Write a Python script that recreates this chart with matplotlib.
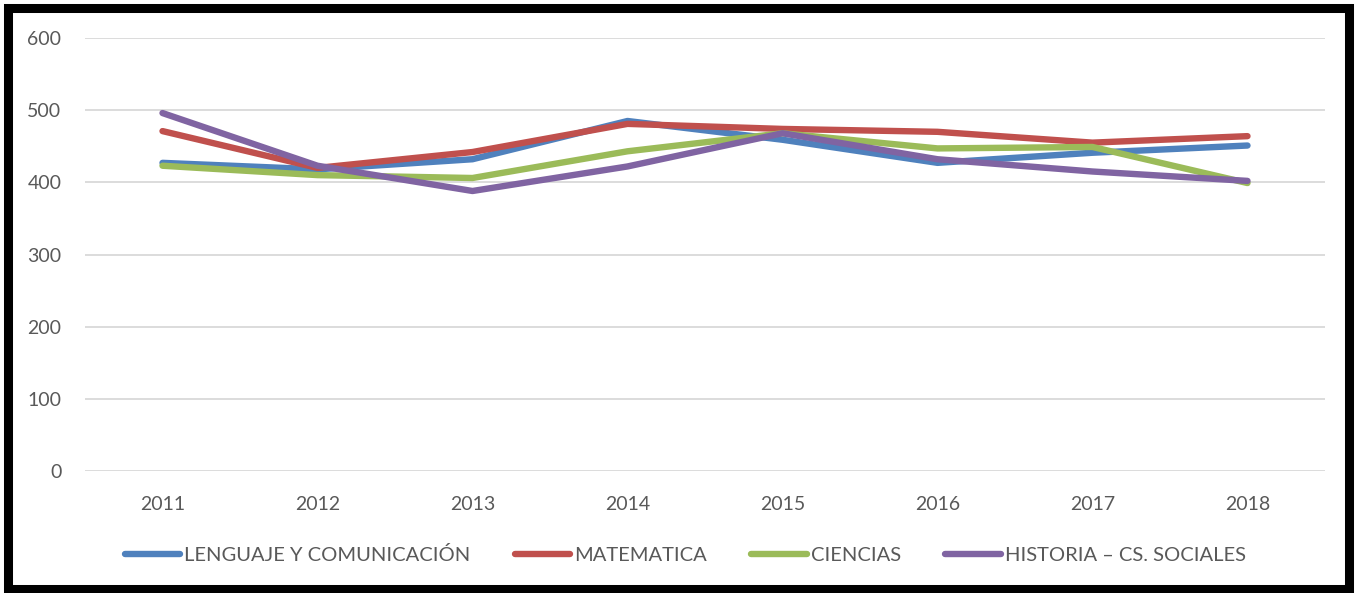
import matplotlib.pyplot as plt
from matplotlib.patches import Rectangle

years = ["2011", "2012", "2013", "2014", "2015", "2016", "2017", "2018"]
lenguaje = [427, 418, 432, 485, 459, 427, 441, 451]
matematica = [471, 420, 442, 481, 474, 470, 455, 464]
ciencias = [423, 410, 406, 443, 468, 447, 449, 399]
historia = [496, 423, 388, 422, 468, 432, 415, 402]

series = [
    ("LENGUAJE Y COMUNICACIÓN", lenguaje, "#4f81bd"),
    ("MATEMATICA", matematica, "#c0504d"),
    ("CIENCIAS", ciencias, "#9bbb59"),
    ("HISTORIA – CS. SOCIALES", historia, "#8064a2"),
]

plt.rcParams['font.family'] = ['Lato', 'DejaVu Sans']
text_color = "#595959"

fig = plt.figure(figsize=(13.57, 5.93), dpi=100)
ax = fig.add_axes([85 / 1357, 1 - 471 / 593, 1240 / 1357, 433 / 593])

x = list(range(len(years)))
for name, vals, col in series:
    ax.plot(x, vals, color=col, lw=4.6, label=name, solid_capstyle="round", solid_joinstyle="round")

ax.set_xlim(-0.5, len(years) - 0.5)
ax.set_ylim(0, 600)
ax.set_yticks(range(0, 601, 100))
ax.set_xticks(x)
ax.set_xticklabels(years)
ax.grid(axis="y", color="#d9d9d9", lw=1.3)
ax.set_axisbelow(True)
for s in ax.spines.values():
    s.set_visible(False)
ax.tick_params(length=0, labelsize=14, colors=text_color)
ax.tick_params(axis="y", pad=17)
ax.tick_params(axis="x", pad=18)

leg = fig.legend(loc="center", bbox_to_anchor=(0.505, 1 - 555 / 593), ncol=4, frameon=False,
                 fontsize=14.5, handlelength=2.75, handletextpad=0.2, columnspacing=2.2)
for t in leg.get_texts():
    t.set_color(text_color)

fig.patches.append(Rectangle((8 / 1357, 4 / 593), 1341 / 1357, 581 / 593, transform=fig.transFigure,
                             fill=False, edgecolor="black", lw=6.5))

fig.savefig("out.png", dpi=100)
